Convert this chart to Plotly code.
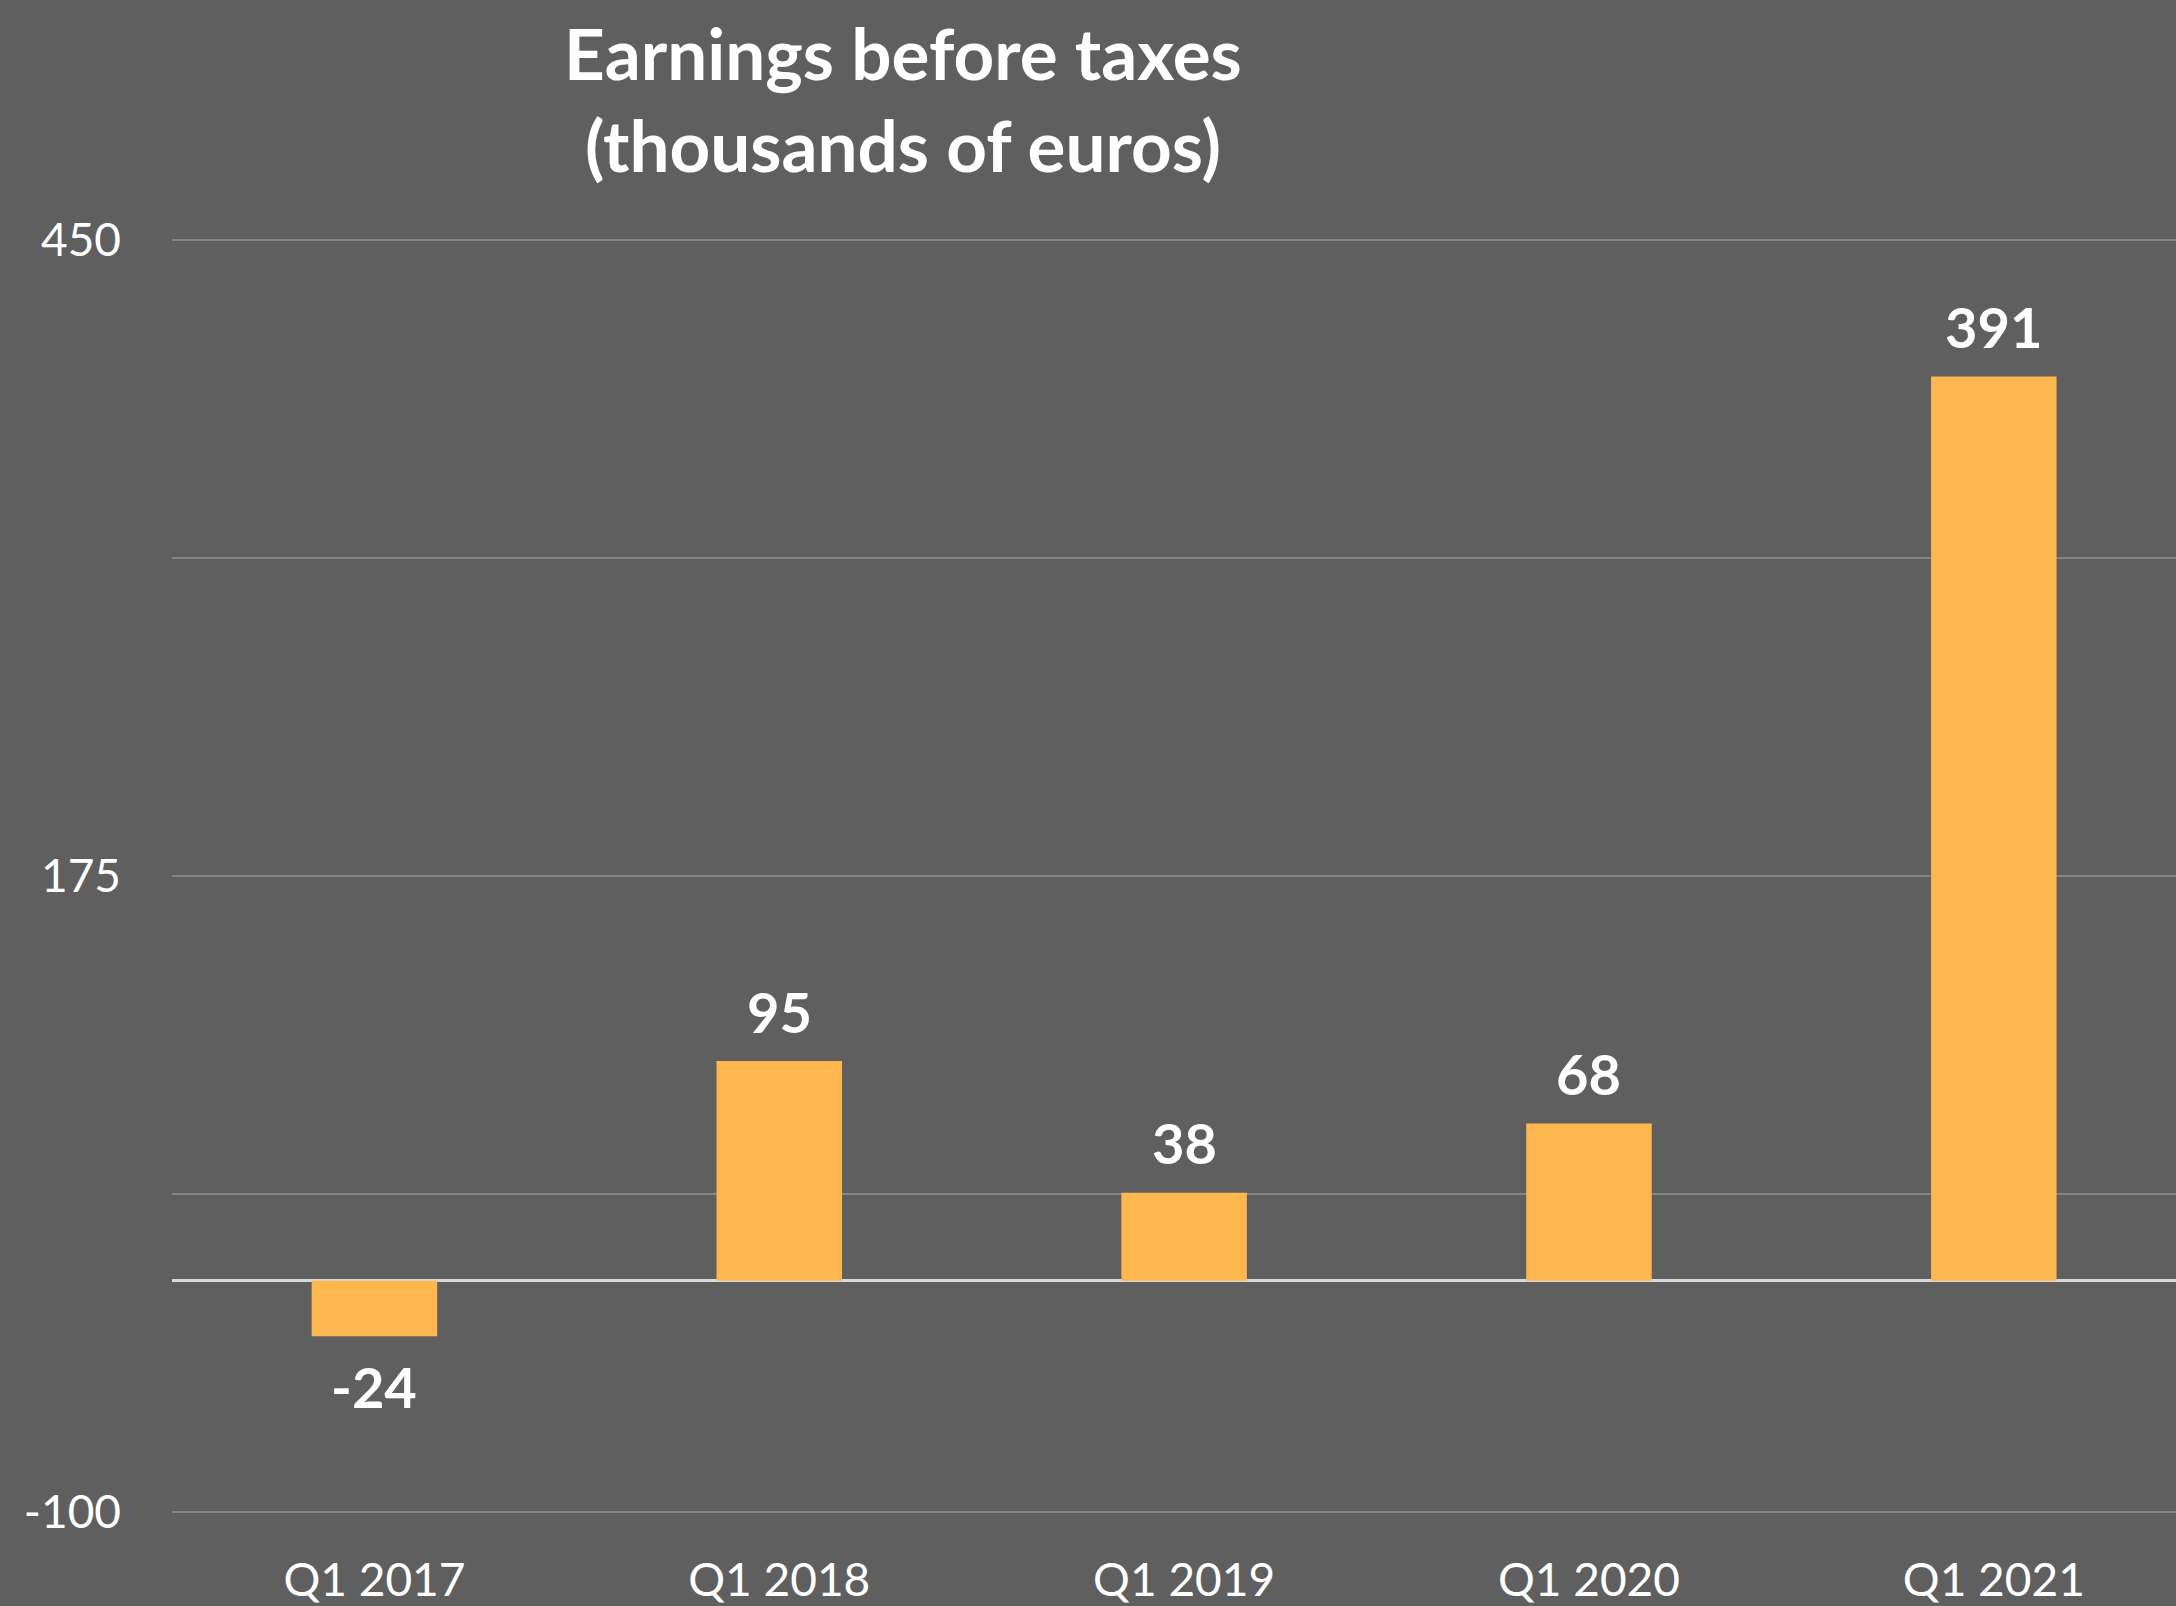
import plotly.graph_objects as go

categories = ["Q1 2017", "Q1 2018", "Q1 2019", "Q1 2020", "Q1 2021"]
values = [-24, 95, 38, 68, 391]
y_tickvals = [450, 312.5, 175, 37.5, -100]
y_ticktext = ["450", "", "175", "", "-100"]
title_text = "Earnings before taxes<br>(thousands of euros)"

BG = "#5f5f5f"
BAR = "#FEB74E"
FONT = "Lato, Open Sans, sans-serif"

PX_PER_UNIT = 637 / 275
PAD = 3
top_margin = 240 - PAD * PX_PER_UNIT
bot_margin = 94 - PAD * PX_PER_UNIT
plot_h = 1606 - top_margin - bot_margin

fig = go.Figure()
fig.add_trace(go.Bar(
    x=categories, y=values,
    marker=dict(color=BAR, line=dict(width=0)),
    width=0.31,
    hoverinfo="skip",
))

for c, v in zip(categories, values):
    fig.add_annotation(
        x=c, y=v, xref="x", yref="y",
        text=f"<b>{v}</b>", showarrow=False,
        yanchor="middle", yshift=50 if v >= 0 else -50,
        font=dict(family=FONT, size=56, color="white"),
    )

fig.add_annotation(
    text=f"<b>{title_text}</b>", showarrow=False,
    xref="paper", yref="paper",
    x=(903 - 172) / 2004, xanchor="center",
    y=1 + (top_margin - 8) / plot_h, yanchor="top",
    font=dict(family=FONT, size=71, color="white"),
)

fig.update_layout(
    width=2176, height=1606,
    paper_bgcolor=BG, plot_bgcolor=BG,
    margin=dict(l=172, r=0, t=top_margin, b=bot_margin, pad=0, autoexpand=False),
    showlegend=False,
    xaxis=dict(
        range=[-0.5, 4.45], showgrid=False, zeroline=False,
        showline=False, ticks="", automargin=False,
        tickfont=dict(family=FONT, size=46, color="white"),
        ticklabelstandoff=30,
    ),
    yaxis=dict(
        range=[-100 - PAD, 450 + PAD], tickvals=y_tickvals, ticktext=y_ticktext,
        showgrid=True, gridcolor="#858585", gridwidth=2,
        zeroline=True, zerolinecolor="#d9d9d9", zerolinewidth=3,
        showline=False, ticks="", automargin=False,
        tickfont=dict(family=FONT, size=46, color="white"),
        ticklabelstandoff=50,
    ),
)

fig.write_html(
    "out.html",
    config={"displayModeBar": False},
    post_script="document.body.style.margin='0';document.body.style.overflow='hidden';",
)
